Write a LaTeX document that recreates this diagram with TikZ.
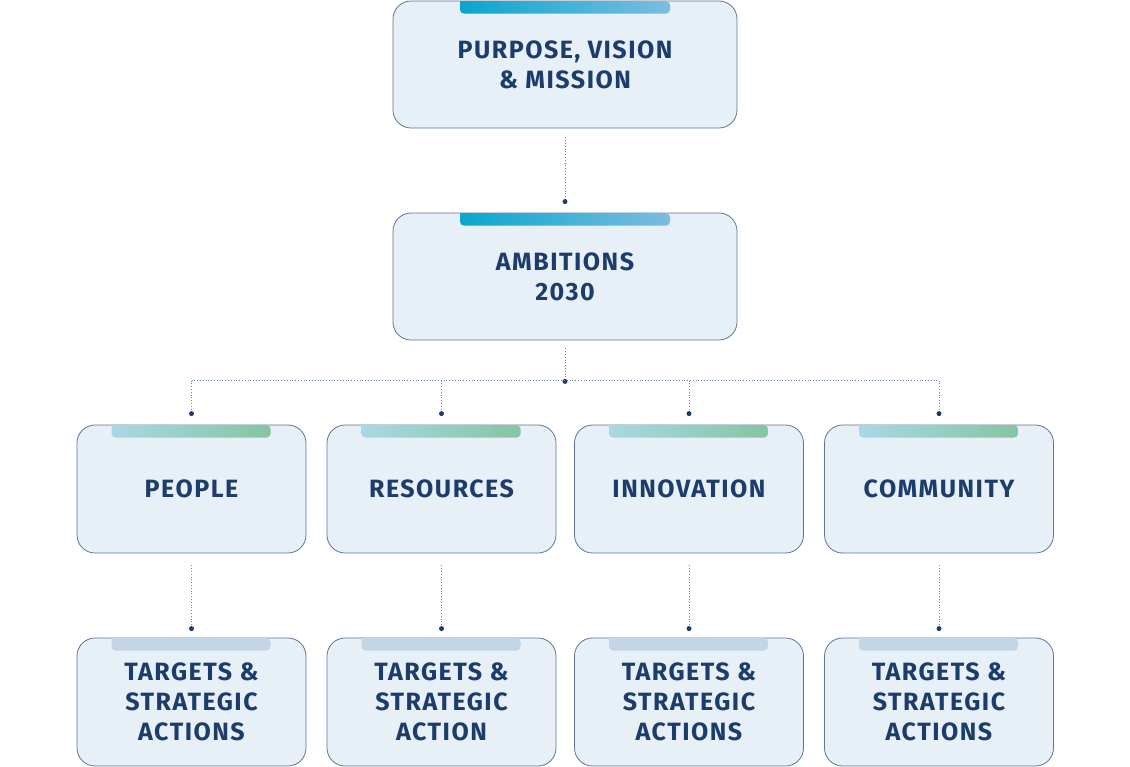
\documentclass[tikz,border=0pt]{standalone}
\usepackage{fontspec}
\setmainfont{Fira Sans}[LetterSpace=6]
\usetikzlibrary{positioning}
\definecolor{txt}{HTML}{1C3D6B}
\definecolor{fillb}{HTML}{E7EFF7}
\definecolor{edge}{HTML}{5D7599}
\definecolor{tabA}{HTML}{0AA6CD}
\definecolor{tabB}{HTML}{7BBDE0}
\definecolor{tabC}{HTML}{A9D8E4}
\definecolor{tabD}{HTML}{84C5A3}
\definecolor{tabE}{HTML}{C4D5E6}
\definecolor{ln}{HTML}{6F86A6}
\tikzset{
  boxn/.style={draw=edge, line width=0.8pt, fill=fillb, rounded corners=18pt, minimum width=344pt, minimum height=127pt, align=center, text=txt, font=\fontsize{25}{30}\selectfont\bfseries, inner sep=0pt},
  smallbox/.style={boxn, minimum width=229pt, minimum height=128pt},
  conn/.style={ln, dotted, line width=0.8pt},
  dotc/.style={circle, fill=txt, inner sep=0pt, minimum size=5pt}
}
\begin{document}
\begin{tikzpicture}[x=1pt,y=-1pt]
\useasboundingbox (0,0) rectangle (1130,766);
\node[boxn] (top) at (565,64.5) {PURPOSE, VISION\\\& MISSION};
\node[boxn] (amb) at (565,276.5) {AMBITIONS\\2030};
\foreach \n/\t/\cx in {p/PEOPLE/191.5, r/RESOURCES/441.5, i/INNOVATION/689, c/COMMUNITY/939}{
  \node[smallbox] (\n) at (\cx,489) {\t};
}
\node[smallbox] (pt) at (191.5,702) {TARGETS \&\\STRATEGIC\\ACTIONS};
\node[smallbox] (rt) at (441.5,702) {TARGETS \&\\STRATEGIC\\ACTION};
\node[smallbox] (it) at (689,702) {TARGETS \&\\STRATEGIC\\ACTIONS};
\node[smallbox] (ct) at (939,702) {TARGETS \&\\STRATEGIC\\ACTIONS};
% tabs
\foreach \b in {top,amb}{
  \shade[left color=tabA, right color=tabB, rounded corners=4pt] ([xshift=-105pt,yshift=-0.6pt]\b.north) -- ([xshift=-105pt,yshift=-13pt]\b.north) -- ([xshift=105pt,yshift=-13pt]\b.north) -- ([xshift=105pt,yshift=-0.6pt]\b.north) [sharp corners]-- cycle;
}
\foreach \b in {p,r,i,c}{
  \shade[left color=tabC, right color=tabD, rounded corners=4pt] ([xshift=-80pt,yshift=-0.6pt]\b.north) -- ([xshift=-80pt,yshift=-13pt]\b.north) -- ([xshift=79pt,yshift=-13pt]\b.north) -- ([xshift=79pt,yshift=-0.6pt]\b.north) [sharp corners]-- cycle;
}
\foreach \b in {pt,rt,it,ct}{
  \fill[tabE, rounded corners=4pt] ([xshift=-80pt,yshift=-0.6pt]\b.north) -- ([xshift=-80pt,yshift=-13pt]\b.north) -- ([xshift=79pt,yshift=-13pt]\b.north) -- ([xshift=79pt,yshift=-0.6pt]\b.north) [sharp corners]-- cycle;
}
% connectors
\draw[conn] ([yshift=-9pt]top.south) -- ([yshift=11pt]amb.north) node[dotc]{};
\coordinate (hub) at ([yshift=-41pt]amb.south);
\draw[conn] ([yshift=-8pt]amb.south) -- (hub) node[dotc]{};
\draw[conn] ([yshift=44pt]p.north) -- ([yshift=44pt]c.north);
\foreach \n in {p,r,i,c}{
  \draw[conn] ([yshift=44pt]\n.north) -- ([yshift=11pt]\n.north) node[dotc]{};
}
\foreach \a/\b in {p/pt,r/rt,i/it,c/ct}{
  \draw[conn] ([yshift=-12pt]\a.south) -- ([yshift=9pt]\b.north) node[dotc]{};
}
\end{tikzpicture}
\end{document}
